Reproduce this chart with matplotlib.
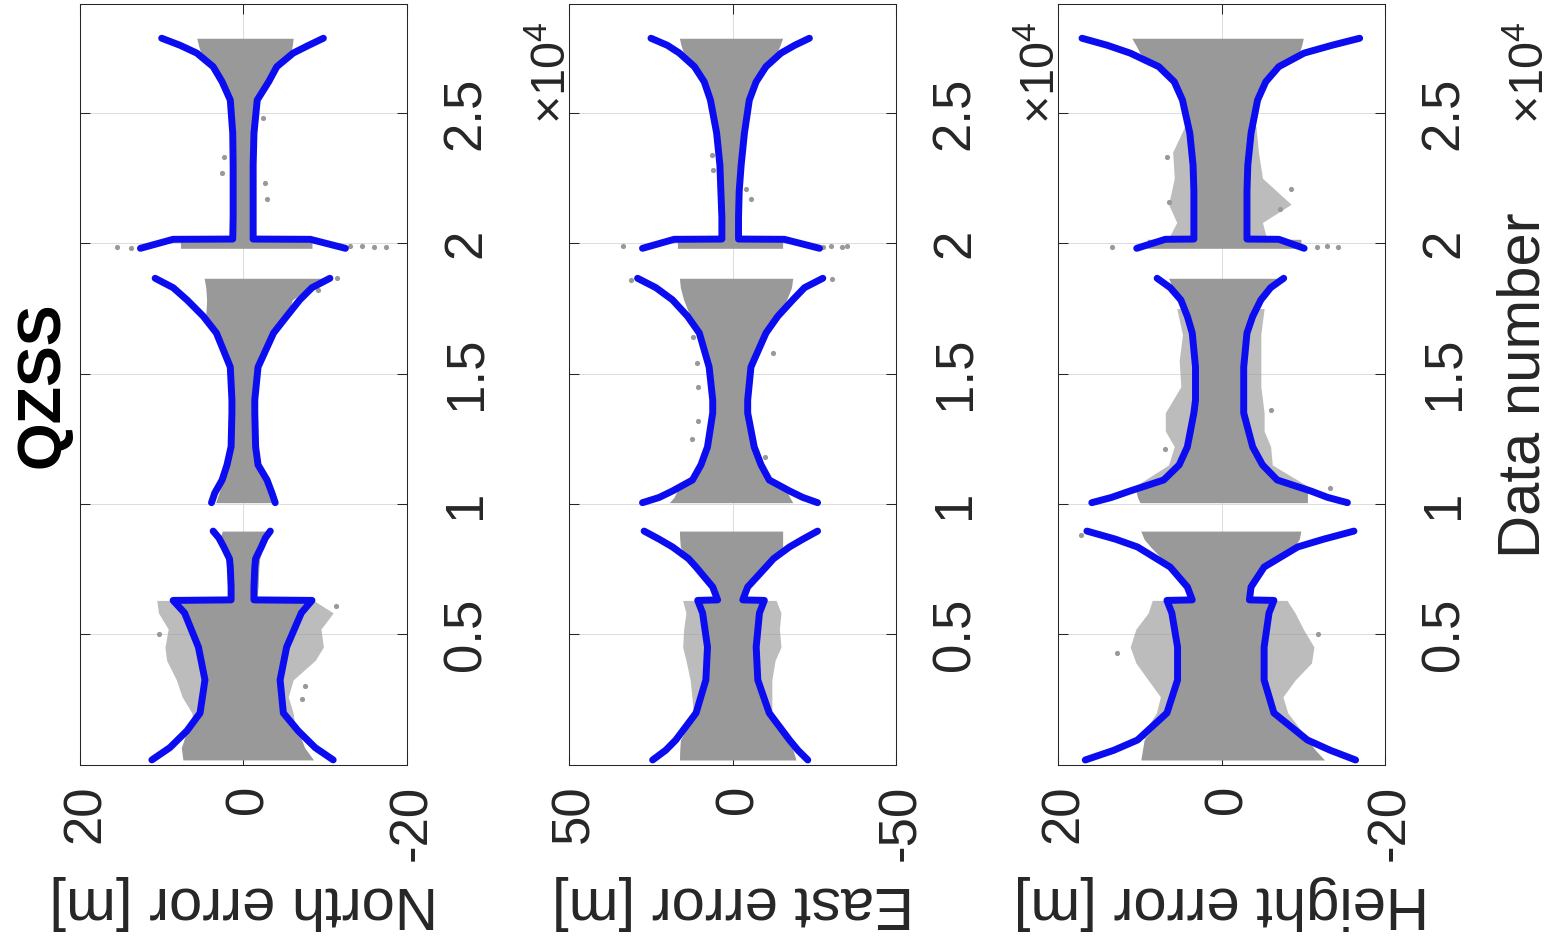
import matplotlib
matplotlib.use('Agg')
import matplotlib.pyplot as plt

plt.rcParams['font.family'] = ['Liberation Sans', 'DejaVu Sans']
plt.rcParams['mathtext.fontset'] = 'custom'
plt.rcParams['mathtext.rm'] = 'Liberation Sans'
plt.rcParams['mathtext.it'] = 'Liberation Sans'

# ---------------- data ----------------
TITLE = 'QZSS'
PANEL_LABELS = ['North error [m]', 'East error [m]', 'Height error [m]']
PANEL_LIMITS = [20, 50, 20]
X_LABEL = 'Data number'
DATA_TICKS = [5000, 10000, 15000, 20000, 25000]
DATA_TICK_LABELS = ['0.5', '1', '1.5', '2', '2.5']
DATA_MAX = 29184

# ---- North ----
N1_n = [180, 650, 1300, 1980, 3250, 4510, 5820, 6300, 6320, 6815, 7580, 7900, 8350, 8700, 8960]
N1_hi = [11.2, 9.0, 6.9, 5.3, 4.7, 5.5, 7.2, 8.6, 1.5, 1.5, 1.6, 1.7, 2.4, 3.0, 3.7]
N1_lo = [-11.0, -8.8, -6.7, -4.9, -4.5, -5.3, -7.1, -8.4, -1.3, -1.3, -1.4, -1.5, -2.2, -2.7, -3.3]
N1_core_hi = [7.4, 7.6, 6.9, 5.3, 4.7, 5.5, 7.2, 8.6, 1.6, 1.8, 1.8, 1.9, 2.4, 2.8, 2.6]
N1_core_lo = [-8.6, -7.5, -6.7, -4.9, -4.5, -5.3, -7.1, -8.4, -1.6, -1.8, -1.9, -2.0, -2.4, -2.8, -2.9]
N2_n = [10050, 10420, 10920, 11500, 12200, 13500, 14000, 15255, 16560, 17200, 17830, 18300, 18660]
N2_hi = [3.9, 3.5, 2.6, 2.0, 1.5, 1.4, 1.4, 1.6, 3.3, 4.9, 6.9, 8.6, 10.8]
N2_lo = [-3.9, -3.5, -2.9, -1.8, -1.5, -1.4, -1.4, -1.8, -3.7, -5.3, -6.9, -8.4, -10.6]
N2_core_hi = [3.4, 3.0, 2.4, 1.9, 1.5, 1.5, 1.5, 1.7, 3.3, 4.6, 4.5, 4.6, 4.8]
N2_core_lo = [-3.6, -3.3, -2.7, -1.8, -1.5, -1.5, -1.5, -1.9, -3.7, -5.3, -6.0, -8.0, -10.8]
N3_n = [19810, 20155, 20165, 21000, 22000, 23000, 24230, 25500, 26200, 26780, 27300, 27600, 27870]
N3_hi = [12.6, 8.6, 1.3, 1.25, 1.25, 1.25, 1.3, 1.6, 2.6, 3.7, 5.7, 7.75, 10.0]
N3_lo = [-12.5, -8.2, -1.2, -1.2, -1.2, -1.2, -1.3, -1.7, -3.1, -4.1, -6.1, -8.0, -9.8]
N3_core_hi = [7.7, 7.7, 1.3, 1.3, 1.3, 1.3, 1.3, 1.6, 2.6, 3.7, 5.2, 5.5, 5.7]
N3_core_lo = [-8.4, -8.4, -1.2, -1.2, -1.2, -1.2, -1.3, -1.7, -3.1, -4.1, -5.8, -6.0, -6.1]
N_cloud_n = [1000, 1980, 2600, 3250, 4000, 4510, 5200, 5820, 6300]
N_cloud_hi = [6.0, 6.3, 7.5, 8.2, 9.4, 9.6, 9.2, 10.4, 10.6]
N_cloud_lo = [-6.5, -6.1, -5.5, -6.1, -8.8, -9.8, -9.5, -11.0, -8.6]
N_out_n = [19850, 19830, 19880, 19900, 19860, 19870, 21690, 22300, 23300, 22700, 24800, 18660, 18200, 3000, 2500, 5000, 6100]
N_out_v = [15.5, 13.8, -13.0, -14.5, -16.0, -17.5, -2.9, -2.6, 2.4, 2.6, -2.4, -11.5, -9.2, -7.5, -7.2, 10.3, -11.4]

# ---- East ----
E1_n = [177, 550, 944, 1980, 3246, 4512, 5817, 6300, 6320, 6815, 7580, 7900, 8350, 8650, 8960]
E1_hi = [24.5, 20.5, 17.4, 11.2, 8.2, 7.7, 9.2, 10.7, 4.6, 6.1, 11.2, 13.5, 18.4, 22.5, 27.1]
E1_lo = [-23.0, -20.0, -17.4, -11.2, -7.7, -7.2, -8.2, -9.7, -3.1, -4.6, -10.2, -12.5, -17.4, -21.5, -26.0]
E1_core_hi = [16.3, 16.2, 16.0, 11.2, 8.2, 7.7, 9.2, 10.7, 4.6, 6.1, 11.2, 13.5, 16.0, 16.2, 16.3]
E1_core_lo = [-19.4, -18.5, -17.4, -11.2, -7.7, -7.2, -8.2, -9.7, -3.1, -4.6, -10.2, -12.5, -15.3, -15.3, -15.3]
E2_n = [10050, 10250, 10500, 10920, 11500, 12190, 13490, 13990, 15255, 16560, 17200, 17830, 18300, 18660]
E2_hi = [27.6, 22.5, 18.4, 12.3, 9.7, 7.7, 6.1, 6.1, 7.2, 10.2, 13.8, 18.4, 23.5, 29.1]
E2_lo = [-26.0, -21.5, -17.4, -11.2, -8.7, -6.6, -4.6, -4.6, -5.6, -10.2, -13.8, -18.4, -22.0, -27.6]
E2_core_hi = [19.4, 18.0, 17.0, 12.3, 9.7, 7.7, 6.1, 6.1, 7.2, 10.2, 13.0, 15.0, 16.0, 16.3]
E2_core_lo = [-18.4, -17.5, -16.5, -11.2, -8.7, -6.6, -4.6, -4.6, -5.6, -10.2, -13.8, -16.5, -18.0, -18.4]
E3_n = [19810, 20155, 20165, 21000, 22000, 23000, 24230, 25500, 26200, 26780, 27300, 27600, 27870]
E3_hi = [27.6, 17.9, 3.3, 3.3, 3.6, 3.9, 4.9, 6.8, 8.7, 11.7, 16.3, 20.0, 25.0]
E3_lo = [-26.6, -15.8, -1.8, -1.8, -2.0, -2.6, -3.6, -5.1, -7.2, -10.2, -14.8, -19.0, -23.5]
E3_core_hi = [16.9, 16.9, 3.3, 3.3, 3.6, 3.9, 4.9, 6.8, 8.7, 11.7, 15.0, 15.8, 16.3]
E3_core_lo = [-15.3, -15.3, -1.8, -1.8, -2.0, -2.6, -3.6, -5.1, -7.2, -10.2, -13.5, -14.5, -15.3]
E_cloud_n = [1500, 1980, 3246, 4000, 4512, 5200, 5817, 6300]
E_cloud_hi = [12.5, 12.0, 13.0, 14.3, 15.3, 15.0, 14.3, 15.3]
E_cloud_lo = [-12.5, -12.0, -12.0, -13.0, -14.8, -14.3, -14.8, -13.3]
E_out_n = [19880, 19870, 19900, 19860, 19880, 21690, 22100, 22800, 23400, 24700, 18600, 18620, 17600, 16400, 15800, 15400, 14500, 13200, 12500, 11800]
E_out_v = [33.7, -27.6, -30.0, -33.5, -35.0, -5.6, -4.1, 6.1, 6.3, 5.0, 31.0, -30.5, -16.0, 12.0, -12.5, 11.0, 10.7, 10.7, 12.5, -9.8]

# ---- Height ----
H1_n = [177, 550, 944, 1980, 3246, 4512, 5817, 6300, 6320, 6815, 7580, 8350, 8650, 8960]
H1_hi = [16.7, 13.2, 10.3, 6.7, 5.4, 5.4, 6.1, 6.7, 3.6, 4.2, 6.3, 10.3, 13.0, 16.5]
H1_lo = [-16.4, -13.3, -10.5, -6.4, -5.2, -5.2, -5.8, -6.4, -3.4, -3.6, -5.2, -9.3, -12.5, -16.2]
H1_core_hi = [9.9, 9.7, 9.5, 6.7, 5.4, 5.4, 6.1, 6.7, 3.6, 4.2, 6.3, 8.7, 9.5, 9.9]
H1_core_lo = [-12.6, -11.5, -10.5, -6.4, -5.2, -5.2, -5.8, -6.4, -3.4, -3.6, -5.2, -8.9, -9.5, -9.7]
H2_n = [10050, 10250, 10500, 10920, 11500, 12190, 13490, 13990, 15255, 16560, 17200, 17830, 18300, 18660]
H2_hi = [15.9, 13.5, 11.2, 7.1, 5.2, 4.2, 3.4, 3.2, 3.2, 3.6, 4.2, 5.0, 6.3, 7.9]
H2_lo = [-15.4, -13.0, -10.9, -6.8, -5.0, -3.8, -2.7, -2.7, -2.7, -3.1, -3.8, -4.8, -6.0, -7.6]
H2_core_hi = [10.0, 10.3, 10.5, 7.1, 5.2, 4.2, 3.4, 3.2, 3.2, 3.6, 4.2, 5.0, 6.0, 6.5]
H2_core_lo = [-10.5, -10.5, -10.5, -6.8, -5.0, -3.8, -2.7, -2.7, -2.7, -3.1, -3.8, -4.8, -6.0, -7.0]
H3_n = [19810, 20155, 20165, 21000, 22000, 23000, 24230, 25500, 26200, 26780, 27300, 27600, 27870]
H3_hi = [10.4, 6.9, 3.4, 3.4, 3.4, 3.5, 3.9, 4.8, 5.8, 7.7, 11.2, 14.0, 17.1]
H3_lo = [-10.1, -7.0, -3.1, -3.1, -3.1, -3.2, -3.6, -4.4, -5.4, -7.0, -10.1, -13.5, -16.9]
H3_core_hi = [9.1, 9.1, 3.4, 3.4, 3.4, 3.5, 3.9, 4.8, 5.8, 7.7, 10.0, 10.5, 11.0]
H3_core_lo = [-9.7, -9.7, -3.1, -3.1, -3.1, -3.2, -3.6, -4.4, -5.4, -7.0, -9.5, -9.8, -10.0]
H_cloud1_n = [1000, 1980, 2600, 3246, 3900, 4512, 5200, 5817, 6300]
H_cloud1_hi = [10.0, 8.0, 7.5, 9.0, 10.5, 11.2, 10.5, 9.0, 8.5]
H_cloud1_lo = [-10.5, -8.1, -7.5, -9.0, -11.0, -11.3, -10.0, -9.0, -8.0]
H_cloud2_n = [10500, 11500, 12200, 12800, 13500, 14500, 15500, 16500, 17500]
H_cloud2_hi = [11.5, 6.5, 5.8, 6.9, 6.9, 5.0, 5.2, 4.8, 5.5]
H_cloud2_lo = [-11.5, -6.2, -6.0, -5.2, -5.2, -4.8, -4.8, -4.8, -5.2]
H_cloud3_n = [20200, 20800, 21500, 22500, 23500, 24500]
H_cloud3_hi = [6.5, 5.5, 6.5, 5.8, 6.0, 4.5]
H_cloud3_lo = [-5.5, -5.0, -8.5, -5.0, -4.5, -4.2]
H_out_n = [19850, 19860, 19880, 19850, 22100, 21600, 23300, 21300, 8800, 10600, 12100, 13600, 4300, 5000, 1300]
H_out_v = [13.4, -11.7, -12.9, -14.2, -8.5, 6.5, 6.7, -7.2, 17.2, -13.3, 6.9, -6.0, 12.8, -11.8, -8.3]

# ---------------- drawing ----------------
W, H = 1551, 947
fig = plt.figure(figsize=(W / 100, H / 100), dpi=100)

AX_LEFT = [80.0, 569.3, 1058.3]
AX_WIDTH = 326.7
AX_TOP, AX_BOTTOM = 4.0, 764.6

GRAY = '#999999'
BLUE = '#0c0cf0'
AXCOL = '#262626'

panels = [
    dict(segs=[(N1_n, N1_hi, N1_lo, N1_core_hi, N1_core_lo),
               (N2_n, N2_hi, N2_lo, N2_core_hi, N2_core_lo),
               (N3_n, N3_hi, N3_lo, N3_core_hi, N3_core_lo)],
         clouds=[(N_cloud_n, N_cloud_hi, N_cloud_lo)],
         out=(N_out_n, N_out_v)),
    dict(segs=[(E1_n, E1_hi, E1_lo, E1_core_hi, E1_core_lo),
               (E2_n, E2_hi, E2_lo, E2_core_hi, E2_core_lo),
               (E3_n, E3_hi, E3_lo, E3_core_hi, E3_core_lo)],
         clouds=[(E_cloud_n, E_cloud_hi, E_cloud_lo)],
         out=(E_out_n, E_out_v)),
    dict(segs=[(H1_n, H1_hi, H1_lo, H1_core_hi, H1_core_lo),
               (H2_n, H2_hi, H2_lo, H2_core_hi, H2_core_lo),
               (H3_n, H3_hi, H3_lo, H3_core_hi, H3_core_lo)],
         clouds=[(H_cloud1_n, H_cloud1_hi, H_cloud1_lo),
                 (H_cloud2_n, H_cloud2_hi, H_cloud2_lo),
                 (H_cloud3_n, H_cloud3_hi, H_cloud3_lo)],
         out=(H_out_n, H_out_v)),
]

for i, p in enumerate(panels):
    left = AX_LEFT[i]
    ax = fig.add_axes([left / W, 1 - AX_BOTTOM / H, AX_WIDTH / W, (AX_BOTTOM - AX_TOP) / H])
    lim = PANEL_LIMITS[i]
    ax.set_xlim(lim, -lim)
    ax.set_ylim(0, DATA_MAX)
    ax.set_axisbelow(True)
    ax.grid(True, color='#dcdcdc', lw=0.7)

    for cn, chi, clo in p['clouds']:
        ax.fill_betweenx(cn, clo, chi, color=GRAY, alpha=0.65, lw=0)
    for n, bhi, blo, chi, clo in p['segs']:
        ax.fill_betweenx(n, clo, chi, color=GRAY, lw=0)
    ax.scatter(p['out'][1], p['out'][0], s=14, color=GRAY, lw=0)
    for n, bhi, blo, chi, clo in p['segs']:
        ax.plot(bhi, n, color=BLUE, lw=5, solid_capstyle='round', solid_joinstyle='round')
        ax.plot(blo, n, color=BLUE, lw=5, solid_capstyle='round', solid_joinstyle='round')

    ax.set_xticks([lim, 0, -lim])
    ax.set_xticklabels([str(lim), '0', '-' + str(lim)])
    ax.set_yticks(DATA_TICKS)
    ax.set_yticklabels(DATA_TICK_LABELS)
    ax.tick_params(axis='x', which='both', bottom=True, top=True, direction='in',
                   length=7.2, width=0.75, pad=14.4, labelsize=38, colors=AXCOL)
    ax.tick_params(axis='y', which='both', left=True, right=True, labelleft=False,
                   labelright=True, direction='in', length=7.2, width=0.75, pad=24.7,
                   labelsize=38, colors=AXCOL)
    for t in ax.get_xticklabels():
        t.set_rotation(90)
        t.set_rotation_mode('anchor')
        t.set_ha('right')
        t.set_va('center_baseline')
    for t in ax.get_yticklabels():
        t.set_rotation(90)
        t.set_rotation_mode('anchor')
        t.set_ha('center')
        t.set_va('top')
    for s in ax.spines.values():
        s.set_color(AXCOL)
        s.set_linewidth(0.75)

    cx = (left + AX_WIDTH / 2) / W
    fig.text(cx, 1 - 887 / H, PANEL_LABELS[i], rotation=180, rotation_mode='anchor',
             ha='center', va='baseline', fontsize=43, color=AXCOL)
    fig.text((left + AX_WIDTH + 159) / W, 1 - 124 / H, '\u00d710$^{4}$', rotation=90,
             rotation_mode='anchor', ha='left', va='baseline', fontsize=35, color=AXCOL)

fig.text(59 / W, 1 - 384.5 / H, TITLE, rotation=90, rotation_mode='anchor',
         ha='center', va='baseline', fontsize=44, fontweight='bold', color='black')
fig.text(1539 / W, 1 - 385 / H, X_LABEL, rotation=90, rotation_mode='anchor',
         ha='center', va='baseline', fontsize=43, color=AXCOL)

fig.savefig('out.png', dpi=100)
